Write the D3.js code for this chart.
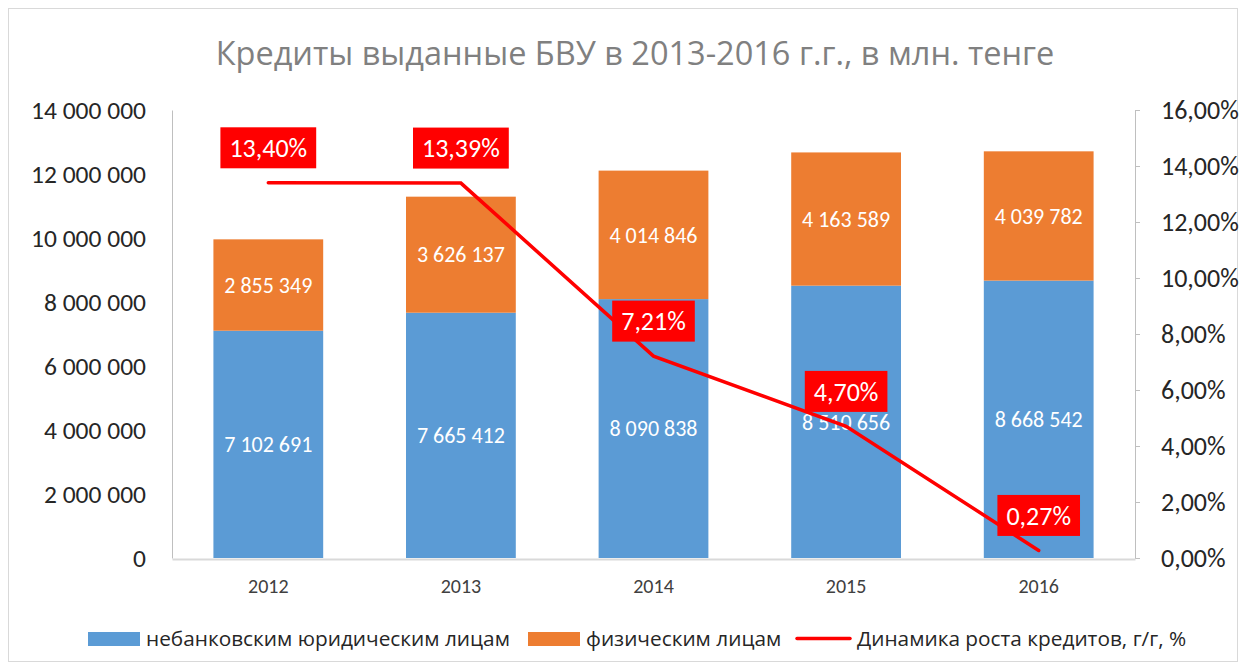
<!DOCTYPE html>
<html>
<head>
<meta charset="utf-8">
<script src="https://cdn.jsdelivr.net/npm/d3@7"></script>
<style>
  html, body { margin: 0; padding: 0; background: #fff; }
  svg { display: block; font-family: Carlito, Calibri, Lato, sans-serif; }
</style>
</head>
<body>
<svg id="chart" width="1246" height="670"></svg>
<script>
const years = ["2012", "2013", "2014", "2015", "2016"];
const legalEntities = [7102691, 7665412, 8090838, 8510656, 8668542];
const individuals = [2855349, 3626137, 4014846, 4163589, 4039782];
const growth = [0.1340, 0.1339, 0.0721, 0.0470, 0.0027];
const leftTicks = [0, 2000000, 4000000, 6000000, 8000000, 10000000, 12000000, 14000000];
const rightTicks = [0, 0.02, 0.04, 0.06, 0.08, 0.10, 0.12, 0.14, 0.16];
const titleText = "Кредиты выданные БВУ в 2013-2016 г.г., в млн. тенге";
const legendLabels = ["небанковским юридическим лицам", "физическим лицам", "Динамика роста кредитов, г/г, %"];

const colors = { legal: "#5B9BD5", indiv: "#ED7D31", line: "#FF0000" };

const locale = d3.formatLocale({ decimal: ",", thousands: " ", grouping: [3], currency: ["", ""] });
const fmtNum = locale.format(",d");
const fmtPct = locale.format(".2%");

const svg = d3.select("#chart");
const W = 1246, H = 670;
const m = { left: 172, right: 1135, top: 110, bottom: 558 };

// chart border
svg.append("rect").attr("x", 8.5).attr("y", 8.5).attr("width", W - 17).attr("height", H - 17)
  .attr("fill", "#fff").attr("stroke", "#d9d9d9");

const x = d3.scaleBand().domain(years).range([m.left, m.right]).paddingInner(0.43).paddingOuter(0.215);
const yL = d3.scaleLinear().domain([0, 14000000]).range([m.bottom, m.top]);
const yR = d3.scaleLinear().domain([0, 0.16]).range([m.bottom, m.top]);

// title
svg.append("text").attr("x", 635).attr("y", 65).attr("text-anchor", "middle")
  .attr("font-family", "'Open Sans', sans-serif")
  .attr("font-size", 32.5).attr("fill", "#808080").text(titleText);

// bars
const data = years.map((yr, i) => ({ yr, a: legalEntities[i], b: individuals[i], g: growth[i] }));
const gBars = svg.append("g");
gBars.selectAll("rect.a").data(data).join("rect").attr("class", "a")
  .attr("x", d => x(d.yr)).attr("width", x.bandwidth())
  .attr("y", d => yL(d.a)).attr("height", d => yL(0) - yL(d.a)).attr("fill", colors.legal);
gBars.selectAll("rect.b").data(data).join("rect").attr("class", "b")
  .attr("x", d => x(d.yr)).attr("width", x.bandwidth())
  .attr("y", d => yL(d.a + d.b)).attr("height", d => yL(d.a) - yL(d.a + d.b)).attr("fill", colors.indiv);

// bar labels
gBars.selectAll("text.la").data(data).join("text").attr("class", "la")
  .attr("x", d => x(d.yr) + x.bandwidth() / 2).attr("y", d => yL(d.a / 2))
  .attr("dy", "0.35em").attr("text-anchor", "middle").attr("font-size", 22).attr("fill", "#fff")
  .text(d => fmtNum(d.a));
gBars.selectAll("text.lb").data(data).join("text").attr("class", "lb")
  .attr("x", d => x(d.yr) + x.bandwidth() / 2).attr("y", d => yL(d.a + d.b / 2))
  .attr("dy", "0.35em").attr("text-anchor", "middle").attr("font-size", 22).attr("fill", "#fff")
  .text(d => fmtNum(d.b));

// axes
const axL = svg.append("g").attr("transform", `translate(${m.left},0)`)
  .call(d3.axisLeft(yL).tickValues(leftTicks).tickFormat(fmtNum).tickSize(0).tickPadding(26));
axL.select(".domain").attr("stroke", "#bfbfbf");
axL.selectAll("text").attr("font-size", 25.5).attr("fill", "#262626");

const axR = svg.append("g").attr("transform", `translate(${m.right},0)`)
  .call(d3.axisRight(yR).tickValues(rightTicks).tickFormat(fmtPct).tickSize(5).tickSizeOuter(0).tickPadding(21));
axR.select(".domain").attr("stroke", "#bfbfbf");
axR.selectAll("line").attr("stroke", "#bfbfbf");
axR.selectAll("text").attr("font-size", 26).attr("fill", "#262626");

const axB = svg.append("g").attr("transform", `translate(0,${m.bottom + 1})`)
  .call(d3.axisBottom(x).tickSize(0).tickPadding(20));
axB.select(".domain").attr("stroke", "#d9d9d9").attr("stroke-width", 2);
axB.selectAll("text").attr("font-size", 20).attr("fill", "#404040");
svg.selectAll("g[font-family]").attr("font-family", null);

// line
const cx = d => x(d.yr) + x.bandwidth() / 2;
svg.append("path").datum(data)
  .attr("d", d3.line().x(cx).y(d => yR(d.g)))
  .attr("fill", "none").attr("stroke", colors.line).attr("stroke-width", 3.5).attr("stroke-linecap", "round");

// line labels
const gLab = svg.append("g");
data.forEach(d => {
  const g = gLab.append("g").attr("transform", `translate(${cx(d)},${yR(d.g) - 35})`);
  const t = g.append("text").attr("text-anchor", "middle").attr("dy", "0.35em")
    .attr("font-size", 26).attr("fill", "#fff").text(fmtPct(d.g));
  const bb = t.node().getBBox();
  g.insert("rect", "text").attr("x", -bb.width / 2 - 9).attr("y", -20.5)
    .attr("width", bb.width + 18).attr("height", 41).attr("fill", colors.line);
});

// legend
const leg = svg.append("g").attr("font-family", "'Open Sans', sans-serif");
leg.append("rect").attr("x", 88).attr("y", 632).attr("width", 52).attr("height", 14).attr("fill", colors.legal);
leg.append("text").attr("x", 146).attr("y", 646).attr("font-size", 20.8).attr("fill", "#262626").text(legendLabels[0]);
leg.append("rect").attr("x", 528).attr("y", 632).attr("width", 52).attr("height", 14).attr("fill", colors.indiv);
leg.append("text").attr("x", 586).attr("y", 646).attr("font-size", 20.8).attr("fill", "#262626").text(legendLabels[1]);
leg.append("line").attr("x1", 797).attr("x2", 850).attr("y1", 638.5).attr("y2", 638.5)
  .attr("stroke", colors.line).attr("stroke-width", 3.5).attr("stroke-linecap", "round");
leg.append("text").attr("x", 857).attr("y", 646).attr("font-size", 20.8).attr("fill", "#262626").text(legendLabels[2]);
</script>
</body>
</html>
